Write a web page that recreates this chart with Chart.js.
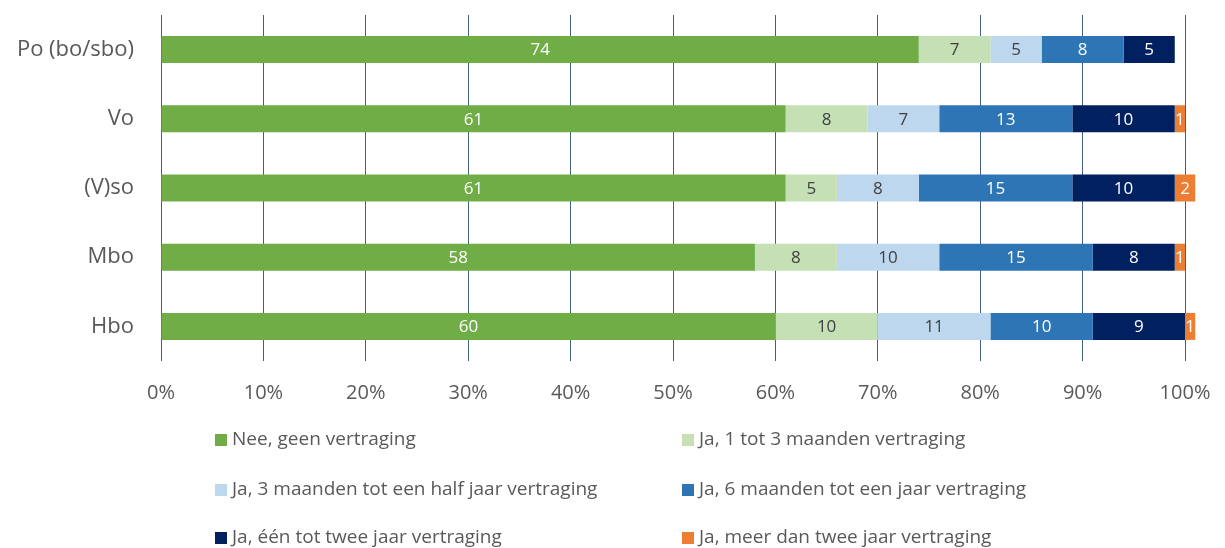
<!DOCTYPE html>
<html lang="nl">
<head>
  <meta charset="UTF-8" />
  <title>Vertraging per onderwijssector</title>
  <style>
    body {
      margin: 0;
      background: #ffffff;
    }
    .wrap {
      position: relative;
      width: 1225px;
      height: 548px;
    }
  </style>
</head>
<body>
  <div class="wrap">
    <canvas id="delayChart"></canvas>
  </div>
  <script src="https://cdn.jsdelivr.net/npm/chart.js"></script>
  <script>
    const sectors = ["Po (bo/sbo)", "Vo", "(V)so", "Mbo", "Hbo"];
    const answers = [
      "Nee, geen vertraging",
      "Ja, 1 tot 3 maanden vertraging",
      "Ja, 3 maanden tot een half jaar vertraging",
      "Ja, 6 maanden tot een jaar vertraging",
      "Ja, één tot twee jaar vertraging",
      "Ja, meer dan twee jaar vertraging"
    ];
    const noDelay = [74, 61, 61, 58, 60];
    const oneToThreeMonths = [7, 8, 5, 8, 10];
    const threeToSixMonths = [5, 7, 8, 10, 11];
    const sixToTwelveMonths = [8, 13, 15, 15, 10];
    const oneToTwoYears = [5, 10, 10, 8, 9];
    const overTwoYears = [0, 1, 2, 1, 1];
    const xTicks = [0, 10, 20, 30, 40, 50, 60, 70, 80, 90, 100];

    const seriesValues = [noDelay, oneToThreeMonths, threeToSixMonths, sixToTwelveMonths, oneToTwoYears, overTwoYears];
    const fills = ["#70ad47", "#c5e0b4", "#bdd7ee", "#2e75b6", "#002060", "#ed7d31"];
    const labelColors = ["#ffffff", "#404040", "#404040", "#ffffff", "#ffffff", "#ffffff"];
    const fontFamily = "'Open Sans', 'Noto Sans', sans-serif";

    // value in the middle of every segment
    const segmentLabels = {
      id: "segmentLabels",
      afterDatasetsDraw(chart) {
        const ctx = chart.ctx;
        ctx.save();
        ctx.font = "17px " + fontFamily;
        ctx.textAlign = "center";
        ctx.textBaseline = "middle";
        chart.data.datasets.forEach((ds, i) => {
          const meta = chart.getDatasetMeta(i);
          meta.data.forEach((bar, j) => {
            const v = ds.data[j];
            if (!v) return;
            ctx.fillStyle = labelColors[i];
            ctx.fillText(String(v), (bar.x + bar.base) / 2, bar.y + 1);
          });
        });
        ctx.restore();
      }
    };

    // two-column legend under the axis
    const gridLegend = {
      id: "gridLegend",
      afterDraw(chart) {
        const ctx = chart.ctx;
        const cols = [215, 682];
        const rows = [440, 490, 538];
        ctx.save();
        ctx.font = "19px " + fontFamily;
        ctx.textBaseline = "middle";
        ctx.textAlign = "left";
        chart.data.datasets.forEach((ds, i) => {
          const x = cols[i % 2];
          const y = rows[Math.floor(i / 2)];
          ctx.fillStyle = ds.backgroundColor;
          ctx.fillRect(x, y - 6, 12, 12);
          ctx.fillStyle = "#595959";
          ctx.fillText(ds.label, x + 17, y);
        });
        ctx.restore();
      }
    };

    new Chart(document.getElementById("delayChart"), {
      type: "bar",
      data: {
        labels: sectors,
        datasets: seriesValues.map((vals, i) => ({
          label: answers[i],
          data: vals,
          backgroundColor: fills[i],
          borderWidth: 0,
          categoryPercentage: 1,
          barPercentage: 0.39,
          clip: false
        }))
      },
      options: {
        indexAxis: "y",
        responsive: true,
        maintainAspectRatio: false,
        animation: false,
        layout: {
          padding: { top: 15, right: 40, left: 0, bottom: 0 }
        },
        plugins: {
          legend: { display: false },
          tooltip: { enabled: false }
        },
        scales: {
          x: {
            stacked: true,
            min: 0,
            max: 100,
            afterBuildTicks(scale) {
              scale.ticks = xTicks.map(v => ({ value: v }));
            },
            afterFit(scale) {
              scale.height = 187;
              scale.paddingLeft = 0;
              scale.paddingRight = 0;
            },
            grid: {
              color: "#46607c",
              lineWidth: 1,
              drawTicks: false
            },
            border: { display: false },
            ticks: {
              padding: 20,
              color: "#595959",
              font: { size: 20, family: fontFamily },
              callback: v => v + "%"
            }
          },
          y: {
            stacked: true,
            afterFit(scale) {
              scale.width = 161;
              scale.paddingTop = 0;
              scale.paddingBottom = 0;
            },
            grid: { display: false },
            border: { display: false },
            ticks: {
              padding: 19,
              color: "#595959",
              font: { size: 22, family: fontFamily }
            }
          }
        }
      },
      plugins: [segmentLabels, gridLegend]
    });
  </script>
</body>
</html>
